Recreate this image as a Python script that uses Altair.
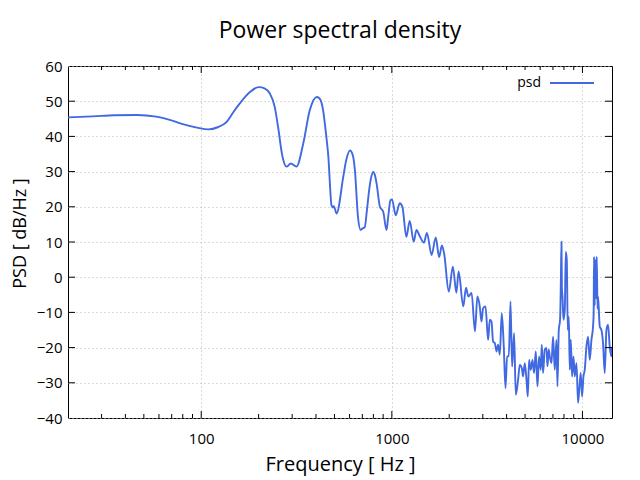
import altair as alt
import pandas as pd

# ---- data ----
freq = [20, 27, 35, 46, 58, 69, 80, 95, 109, 122, 136, 147, 159, 180, 200, 216, 229, 243, 253, 267,
        280, 295, 316, 343, 371, 404, 420, 436, 451, 464, 483, 490, 496, 513, 556, 575, 603, 625, 640, 664,
        686, 700, 721, 740, 760, 780, 799, 815, 832, 866, 901, 938, 957, 984, 1002, 1048, 1100, 1136, 1192, 1241,
        1303, 1346, 1399, 1474, 1527, 1617, 1700, 1770, 1830, 1880, 1990, 2090, 2180, 2240, 2370, 2450, 2520, 2620, 2730, 2810,
        2892, 2953, 3011, 3100, 3199, 3265, 3333, 3398, 3469, 3540, 3609, 3684, 3774, 3866, 3947, 4024, 4107, 4193, 4275, 4379,
        4469, 4596, 4691, 4806, 4882, 4983, 5086, 5167, 5248, 5357, 5468, 5575, 5690, 5808, 5921, 6044, 6118, 6215, 6343, 6475,
        6554, 6658, 6738, 6878, 7012, 7157, 7306, 7395, 7512, 7631, 7700, 7762, 7800, 7856, 7952, 8078, 8176, 8276, 8375, 8478,
        8580, 8685, 8823, 8973, 9114, 9303, 9485, 9648, 9797, 9952, 10121, 10282, 10495, 10700, 10921, 11148, 11366, 11450, 11503, 11600,
        11699, 11800, 11885, 12000, 12073, 12322, 12577, 12823, 13088, 13362, 13622, 13903, 14194, 14290]
psd = [45.4, 45.7, 46.0, 46.1, 45.6, 44.6, 43.5, 42.5, 42.0, 42.6, 44.1, 46.8, 49.3, 52.6, 54.0, 53.6, 52.2, 48.4, 42.7, 34.2,
       31.4, 32.3, 31.4, 38.0, 47.4, 51.2, 50.6, 47.4, 41.0, 34.5, 20.3, 19.8, 20.2, 18.1, 28.5, 33.0, 36.0, 34.5, 30.4, 17.2,
       13.4, 13.8, 14.2, 19.0, 24.7, 28.5, 29.9, 29.0, 26.6, 20.0, 18.6, 13.4, 17.2, 21.9, 22.1, 17.6, 21.0, 20.0, 11.5, 16.0,
       10.1, 13.4, 11.7, 9.8, 12.6, 6.3, 11.3, 5.7, 9.0, 6.8, -4.1, 3.0, -4.4, 1.6, -8.3, -3.0, -5.5, -4.5, -15.4, -5.5,
       -8.3, -12.6, -8.8, -8.3, -17.8, -12.1, -12.6, -18.3, -18.7, -21.1, -19.2, -22.0, -10.2, -19.7, -31.5, -22.5, -22.5, -6.9, -25.4, -15.9,
       -33.4, -29.1, -24.9, -25.8, -28.2, -24.4, -29.1, -33.9, -23.5, -26.3, -23.5, -27.2, -21.1, -31.0, -22.5, -26.3, -19.2, -27.2, -20.6, -20.1,
       -25.3, -20.6, -22.5, -24.4, -16.9, -26.3, -17.8, -31.0, -15.0, -12.1, -2.0, 10.1, -3.0, -5.5, -12.1, -9.3, 7.2, 4.9, -15.0, -11.2,
       -26.3, -17.8, -28.2, -22.5, -28.2, -24.4, -35.7, -31.0, -27.2, -33.9, -28.2, -26.3, -19.7, -16.9, -23.5, -17.8, -14.0, -10.0, 5.8, -8.0,
       4.9, -6.0, 5.8, -9.0, -5.5, -14.0, -15.0, -18.7, -27.2, -15.0, -13.5, -19.7, -22.5, -20.0]

x_major = [100, 1000, 10000]
x_minor = [30, 40, 50, 60, 70, 80, 90, 200, 300, 400, 500, 600, 700, 800, 900,
           2000, 3000, 4000, 5000, 6000, 7000, 8000, 9000]
y_labels = [-40, -30, -20, -10, 0, 10, 20, 30, 40, 50, 60]
y_ticks = [-30, -20, -10, 0, 10, 20, 30, 40, 50]
legend_labels = ["psd"]

FONT = "Open Sans"
COLOR = "#4169E1"
W, H = 544, 352

df = pd.DataFrame({"freq": freq, "psd": psd})
xscale = alt.Scale(type="log", domain=[20, 14290], nice=False)
yscale = alt.Scale(domain=[-40, 60], nice=False, zero=False)

xaxis = alt.Axis(values=x_major, format="d", title="Frequency [ Hz ]", ticks=False, tickSize=0,
                 domain=False, grid=True, gridDash=[1, 3], gridColor="#b4b4b4", labelOverlap=False,
                 labelFont=FONT, labelFontSize=15, labelPadding=13, labelColor="#000",
                 titleFont=FONT, titleFontSize=20, titleFontWeight="normal", titlePadding=8, titleColor="#000")
yaxis = alt.Axis(values=y_labels, format="d", title="PSD [ dB/Hz ]", labelOverlap=False,
                 ticks=False, tickSize=0, domain=False, grid=True, gridDash=[1, 3], gridColor="#b4b4b4",
                 labelFont=FONT, labelFontSize=15, labelPadding=6, labelColor="#000",
                 titleFont=FONT, titleFontSize=18, titleFontWeight="normal", titlePadding=7, titleColor="#000",
                 titleY=167)

line = alt.Chart(df).mark_line(color=COLOR, strokeWidth=1.9, clip=True, interpolate="monotone").encode(
    x=alt.X("freq:Q", scale=xscale, axis=xaxis),
    y=alt.Y("psd:Q", scale=yscale, axis=yaxis),
)

def xticks(values, length, top):
    d = pd.DataFrame({"v": values})
    if top:
        yy, yy2 = alt.value(0), alt.value(length)
    else:
        yy, yy2 = alt.value(H), alt.value(H - length)
    return alt.Chart(d).mark_rule(color="black", strokeWidth=1).encode(
        x=alt.X("v:Q", scale=xscale, axis=xaxis), y=yy, y2=yy2)

def yticks(length, right):
    d = pd.DataFrame({"v": y_ticks})
    if right:
        xx, xx2 = alt.value(W), alt.value(W - length)
    else:
        xx, xx2 = alt.value(0), alt.value(length)
    return alt.Chart(d).mark_rule(color="black", strokeWidth=1).encode(
        y=alt.Y("v:Q", scale=yscale, axis=yaxis), x=xx, x2=xx2)

leg_df = pd.DataFrame({"label": legend_labels})
leg_text = alt.Chart(leg_df).mark_text(font=FONT, fontSize=14, align="right", baseline="middle", color="black").encode(
    text="label:N", x=alt.value(473), y=alt.value(17))
leg_line = alt.Chart(leg_df).mark_rule(color=COLOR, strokeWidth=1.9).encode(
    x=alt.value(482), x2=alt.value(526), y=alt.value(17))

chart = alt.layer(
    line,
    xticks(x_major, 7, False), xticks(x_major, 7, True),
    xticks(x_minor, 4, False), xticks(x_minor, 4, True),
    yticks(7, False), yticks(7, True),
    leg_text, leg_line,
).properties(
    width=W, height=H,
    title=alt.Title("Power spectral density", font=FONT, fontSize=23, fontWeight="normal",
                    anchor="middle", frame="group", baseline="alphabetic", offset=-2, color="#000"),
    autosize=alt.AutoSizeParams(type="none"),
    padding={"left": 60, "top": 58, "right": 20, "bottom": 58},
).configure_view(stroke="black", strokeWidth=1)

chart.save("out.html", embed_options={"renderer": "svg", "actions": False})
